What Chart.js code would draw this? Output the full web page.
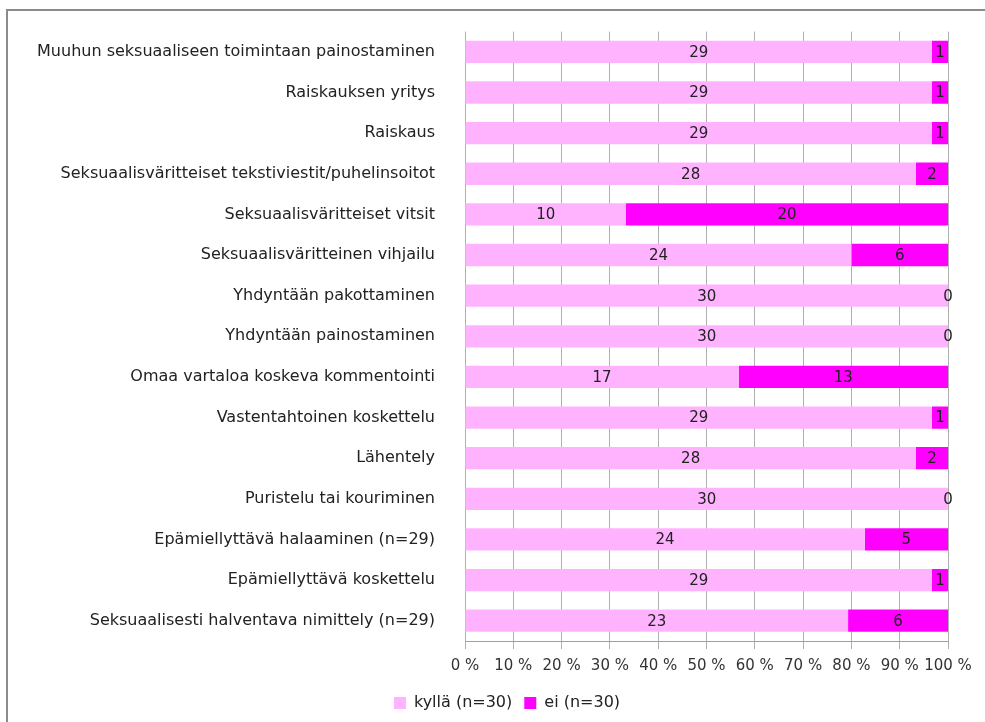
<!DOCTYPE html>
<html>
<head>
<meta charset="utf-8">
<script src="https://cdn.jsdelivr.net/npm/chart.js@4"></script>
<style>
  html, body { margin: 0; padding: 0; background: #fff; }
  #wrap { position: relative; width: 985px; height: 722px; }
</style>
</head>
<body>
<div id="wrap"><canvas id="kaavio"></canvas></div>
<script>
const kategoriat = [
    'Muuhun seksuaaliseen toimintaan painostaminen',
    'Raiskauksen yritys',
    'Raiskaus',
    'Seksuaalisväritteiset tekstiviestit/puhelinsoitot',
    'Seksuaalisväritteiset vitsit',
    'Seksuaalisväritteinen vihjailu',
    'Yhdyntään pakottaminen',
    'Yhdyntään painostaminen',
    'Omaa vartaloa koskeva kommentointi',
    'Vastentahtoinen koskettelu',
    'Lähentely',
    'Puristelu tai kouriminen',
    'Epämiellyttävä halaaminen (n=29)',
    'Epämiellyttävä koskettelu',
    'Seksuaalisesti halventava nimittely (n=29)'
];
const kylla = [29, 29, 29, 28, 10, 24, 30, 30, 17, 29, 28, 30, 24, 29, 23];
const ei = [1, 1, 1, 2, 20, 6, 0, 0, 13, 1, 2, 0, 5, 1, 6];
const sarjaNimet = ['kyllä (n=30)', 'ei (n=30)'];
const xTikit = [0, 10, 20, 30, 40, 50, 60, 70, 80, 90, 100];

function prosentit(sarja) {
    return sarja.map((v, i) => v / (kylla[i] + ei[i]) * 100);
}

const fontti = "'DejaVu Sans', sans-serif";

const kehys = {
    id: 'kehys',
    beforeDraw(chart) {
        const c = chart.ctx;
        c.save();
        c.strokeStyle = '#8c8c8c';
        c.lineWidth = 2;
        c.beginPath();
        c.moveTo(7, 722);
        c.lineTo(7, 10);
        c.lineTo(985, 10);
        c.stroke();
        c.restore();
    }
};

// selite hieman oikealle, kuten alkuperäisessä
const seliteSiirto = {
    id: 'seliteSiirto',
    afterLayout(chart) {
        if (chart.legend) {
            chart.legend.left += 33;
            chart.legend.right += 33;
        }
    }
};

const arvoTekstit = {
    id: 'arvoTekstit',
    afterDatasetsDraw(chart) {
        const c = chart.ctx;
        c.save();
        c.font = '15px ' + fontti;
        c.fillStyle = '#222';
        c.textAlign = 'center';
        c.textBaseline = 'middle';
        const lahteet = [kylla, ei];
        chart.data.datasets.forEach((ds, d) => {
            chart.getDatasetMeta(d).data.forEach((bar, i) => {
                const x = (bar.x + bar.base) / 2;
                c.fillText(String(lahteet[d][i]), x, bar.y + 1);
            });
        });
        c.restore();
    }
};

const ctx = document.getElementById('kaavio').getContext('2d');
new Chart(ctx, {
    type: 'bar',
    data: {
        labels: kategoriat,
        datasets: [
            {
                label: sarjaNimet[0],
                data: prosentit(kylla),
                backgroundColor: '#ffb3ff',
                barPercentage: 0.55,
                categoryPercentage: 1
            },
            {
                label: sarjaNimet[1],
                data: prosentit(ei),
                backgroundColor: '#ff00ff',
                barPercentage: 0.55,
                categoryPercentage: 1
            }
        ]
    },
    options: {
        indexAxis: 'y',
        responsive: true,
        maintainAspectRatio: false,
        animation: false,
        layout: {
            padding: { top: 28, right: 37, bottom: 1, left: 0 }
        },
        scales: {
            x: {
                stacked: true,
                min: 0,
                max: 100,
                afterBuildTicks: s => { s.ticks = xTikit.map(v => ({ value: v })); },
                grid: { color: '#b0b0b0', drawTicks: true, tickLength: 8 },
                border: { color: '#a0a0a0' },
                ticks: {
                    callback: v => v + ' %',
                    font: { size: 15, family: fontti },
                    color: '#333',
                    padding: 8,
                    maxRotation: 0,
                    autoSkip: false
                }
            },
            y: {
                stacked: true,
                afterFit: s => { s.width = 465; },
                grid: { display: false },
                border: { display: false },
                ticks: {
                    font: { size: 16, family: fontti },
                    color: '#222',
                    padding: 22
                }
            }
        },
        plugins: {
            legend: {
                position: 'bottom',
                labels: {
                    font: { size: 16, family: fontti },
                    color: '#222',
                    boxWidth: 12,
                    boxHeight: 12,
                    padding: 12
                }
            },
            tooltip: { enabled: false }
        }
    },
    plugins: [kehys, seliteSiirto, arvoTekstit]
});
</script>
</body>
</html>
